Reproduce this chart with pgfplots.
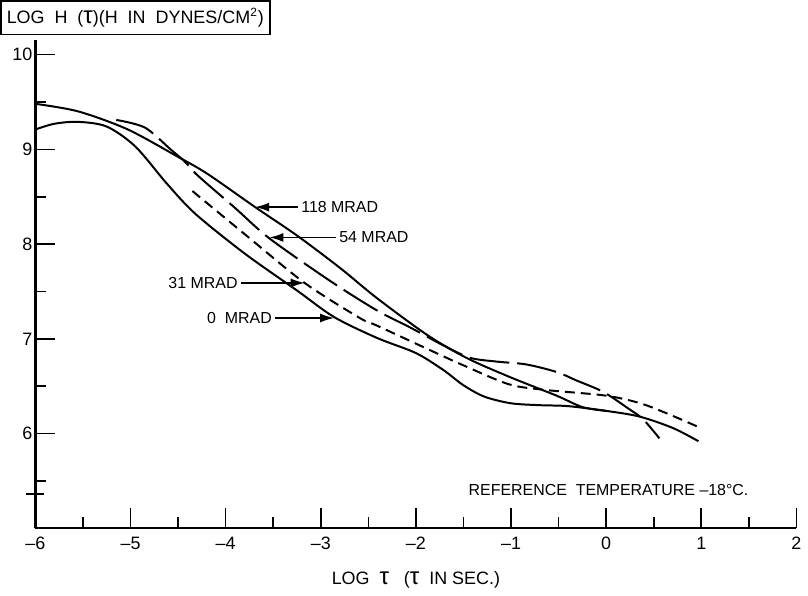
\documentclass[border=0pt]{standalone}
\usepackage{pgfplots}
\pgfplotsset{compat=1.18}
\usepackage{fontspec}
\setmainfont{Liberation Sans}
\usetikzlibrary{arrows.meta}
\begin{document}
\begin{tikzpicture}
\begin{axis}[
  scale only axis, width=382pt, height=245pt,
  xmin=-6, xmax=2, ymin=5, ymax=10.15,
  axis x line*=bottom, axis y line*=left,
  axis line style={line width=1.1pt},
  clip=false,
  xtick={-6,...,2},
  xticklabels={{–6},{–5},{–4},{–3},{–2},{–1},{0},{1},{2}},
  minor xtick={-5.5,-4.5,...,1.5},
  ytick={6,7,8,9,10},
  minor ytick={5.5,6.5,...,9.5},
  tick align=inside,
  major tick length=10pt, minor tick length=5.5pt,
  tick style={black, line width=0.8pt},
  extra y ticks={5.36}, extra y tick labels={},
  extra y tick style={tick align=center, major tick length=9pt, line width=1.6pt},
  /pgf/number format/assume math mode=true,
  tick label style={font=\fontsize{9}{10}\selectfont},
  xticklabel style={yshift=-1pt},
  yticklabel style={xshift=2pt},
  xlabel={LOG\ \ {\large τ}\ \ \ ({\large τ}\ \ IN\ SEC.)},
  xlabel style={font=\fontsize{9}{10}\selectfont, yshift=-4pt},
]
% 0 MRAD
\addplot[black, line width=1pt, smooth, tension=0.5] coordinates {
(-6,9.21) (-5.8,9.27) (-5.55,9.29) (-5.25,9.24) (-4.95,9.03) (-4.62,8.64)
(-4.32,8.32) (-3.8,7.90) (-3.25,7.51) (-2.86,7.23) (-2.41,7.01) (-2.0,6.85)
(-1.71,6.67) (-1.5,6.51) (-1.28,6.39) (-1.0,6.32) (-0.7,6.30) (-0.4,6.29)
(0.0,6.24) (0.35,6.18) (0.7,6.06) (0.97,5.92)};
% 118 MRAD
\addplot[black, line width=1pt, smooth, tension=0.5] coordinates {
(-6,9.48) (-5.55,9.40) (-5.03,9.21) (-4.5,8.92) (-4.19,8.74) (-3.69,8.39)
(-3.25,8.09) (-2.8,7.75) (-2.41,7.43) (-1.88,7.04) (-1.47,6.80) (-1.02,6.60)
(-0.52,6.40) (-0.25,6.28) (0.0,6.24)};
% 54 MRAD
\addplot[black, line width=1pt, smooth, tension=0.5, dash pattern=on 20pt off 4pt] coordinates {
(-5.15,9.31) (-4.85,9.23) (-4.58,9.0) (-4.43,8.87) (-4.29,8.72) (-3.9,8.38)
(-3.54,8.06) (-2.90,7.61) (-2.41,7.30) (-2.06,7.12) (-1.71,6.93) (-1.43,6.80)
(-1.15,6.76) (-0.84,6.73) (-0.52,6.65) (-0.31,6.56) (-0.03,6.44) (0.24,6.26)
(0.39,6.15) (0.56,5.95)};
% 31 MRAD
\addplot[black, line width=1pt, smooth, tension=0.5, dash pattern=on 5pt off 3pt] coordinates {
(-4.35,8.56) (-3.77,8.08) (-3.17,7.59) (-2.59,7.22) (-2.41,7.14) (-1.85,6.88)
(-1.5,6.72) (-1.02,6.52) (-0.63,6.46) (0.0,6.40) (0.42,6.30) (0.97,6.07)};
% labels
\node[draw, line width=0.8pt, inner xsep=3pt, inner ysep=3.5pt, font=\fontsize{9}{10}\selectfont]
  at (axis cs:-4.95,10.39) {LOG\ \ H\ \ ({\large τ})(H\ \ IN\ \ DYNES/CM\textsuperscript{2})};
\begin{scope}[font=\fontsize{8}{9}\selectfont]
\node[anchor=west, inner sep=1pt] at (axis cs:-3.23,8.39) {118 MRAD};
\draw[line width=0.7pt, -{Latex[length=7pt,width=4.5pt]}] (axis cs:-3.24,8.39) -- (axis cs:-3.69,8.39);
\node[anchor=west, inner sep=1pt] at (axis cs:-2.83,8.07) {54 MRAD};
\draw[line width=0.7pt, -{Latex[length=7pt,width=4.5pt]}] (axis cs:-2.84,8.07) -- (axis cs:-3.54,8.07);
\node[anchor=east, inner sep=1pt] at (axis cs:-3.85,7.59) {31 MRAD};
\draw[line width=0.7pt, -{Latex[length=7pt,width=4.5pt]}] (axis cs:-3.84,7.59) -- (axis cs:-3.17,7.59);
\node[anchor=east, inner sep=1pt] at (axis cs:-3.49,7.22) {0\ \ MRAD};
\draw[line width=0.7pt, -{Latex[length=7pt,width=4.5pt]}] (axis cs:-3.48,7.22) -- (axis cs:-2.86,7.22);
\node[anchor=west, inner sep=1pt] at (axis cs:-1.47,5.41) {REFERENCE\ \ TEMPERATURE –18°C.};
\end{scope}
\end{axis}
\end{tikzpicture}
\end{document}
